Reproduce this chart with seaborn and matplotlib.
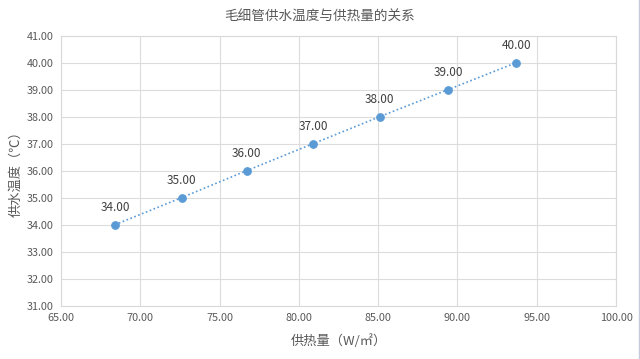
import matplotlib
matplotlib.use("Agg")
import matplotlib.pyplot as plt
import seaborn as sns
import pandas as pd
from matplotlib.lines import Line2D

heat = [68.4, 72.6, 76.7, 80.9, 85.1, 89.4, 93.7]
temp = [34.0, 35.0, 36.0, 37.0, 38.0, 39.0, 40.0]
x_ticks = [65, 70, 75, 80, 85, 90, 95, 100]
y_ticks = [31, 32, 33, 34, 35, 36, 37, 38, 39, 40, 41]
title = "毛细管供水温度与供热量的关系"
xlabel = "供热量（W/㎡）"
ylabel = "供水温度（℃）"

sns.set_theme(style="white")
plt.rcParams['font.family'] = ['Noto Sans CJK SC', 'DejaVu Sans']

df = pd.DataFrame({"heat": heat, "temp": temp})
fig = plt.figure(figsize=(6.4, 3.59), dpi=100)
ax = fig.add_axes([61/640, 1 - 305.7/359, (616-61)/640, (305.7-35.7)/359])

blue = "#5b9bd5"
grey_text = "#595959"
sns.lineplot(data=df, x="heat", y="temp", ax=ax, color=blue, linestyle=(0, (1, 1.5)),
             linewidth=1.2, marker="o", markersize=5.5, markeredgecolor=blue,
             markerfacecolor=blue)

for xv, yv in zip(heat, temp):
    ax.annotate(f"{yv:.2f}", (xv, yv), xytext=(0, 7.5), textcoords="offset points",
                ha="center", va="bottom", fontsize=8.5, color="#404040")

ax.set_xlim(65, 100)
ax.set_ylim(31, 41)
ax.set_xticks(x_ticks)
ax.set_yticks(y_ticks)
ax.set_xticklabels([f"{v:.2f}" for v in x_ticks])
ax.set_yticklabels([f"{v:.2f}" for v in y_ticks])
ax.tick_params(axis="both", labelsize=7.8, colors=grey_text, length=0, pad=5)
ax.grid(True, color="#dcdcdc", linewidth=0.8)
for s in ax.spines.values():
    s.set_color("#d9d9d9")
    s.set_linewidth(0.8)

ax.set_xlabel(xlabel, fontsize=9.5, color=grey_text, labelpad=8)
ax.set_ylabel(ylabel, fontsize=9.5, color=grey_text, labelpad=3)
fig.text(0.5, 1 - 17/359, title, ha="center", va="center", fontsize=9.8, color=grey_text)

fig.add_artist(Line2D([638.5/640, 638.5/640], [0, 1], transform=fig.transFigure,
                      color="#c5cbdc", linewidth=1))

fig.savefig("out.png", dpi=100)
